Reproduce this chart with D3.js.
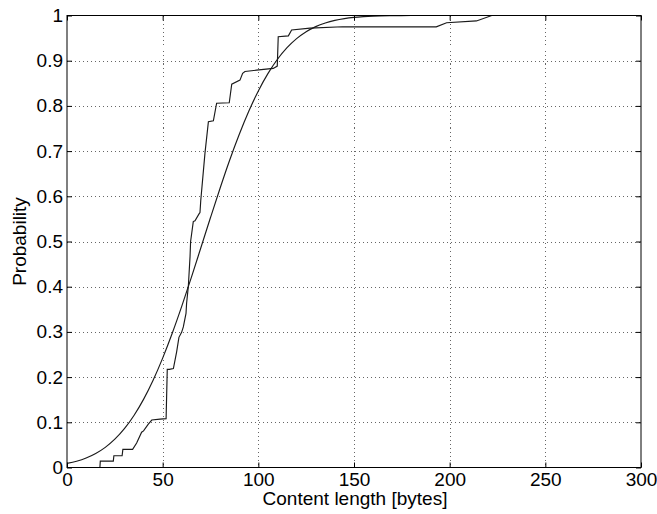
<!DOCTYPE html>
<html>
<head>
<meta charset="utf-8">
<script src="https://cdn.jsdelivr.net/npm/d3@7"></script>
<style>
  html, body { margin: 0; padding: 0; background: #fff; }
  svg { display: block; }
  text { font-family: "Liberation Sans", Arial, Helvetica, sans-serif; fill: #000; }
</style>
</head>
<body>
<svg id="chart" width="657" height="514"></svg>
<script>
// Empirical CDF of content length (bytes -> cumulative probability)
const empiricalX = [0, 17.2, 17.4, 24.2, 24.5, 28.8, 29.2, 34.3, 36.4, 39, 40, 42.5, 44.3, 48.6, 51.8, 52.4, 53.5, 55.6, 57.3, 58.5, 59.9, 60.8, 62.2, 62.5, 63.4, 64.3, 64.6, 66, 66.9, 69, 69.5, 69.9, 72.1, 73.9, 76.5, 78.2, 84.8, 86.1, 90.4, 91.8, 93, 99, 107.8, 109.9, 110.4, 115.7, 117.4, 127, 144, 193, 198.4, 214, 222, 300];
const empiricalP = [0, 0, 0.014, 0.014, 0.026, 0.026, 0.040, 0.040, 0.054, 0.078, 0.081, 0.096, 0.105, 0.107, 0.108, 0.217, 0.217, 0.219, 0.256, 0.288, 0.299, 0.311, 0.341, 0.363, 0.400, 0.466, 0.500, 0.544, 0.546, 0.561, 0.564, 0.590, 0.695, 0.765, 0.767, 0.806, 0.807, 0.848, 0.857, 0.872, 0.876, 0.879, 0.883, 0.888, 0.953, 0.955, 0.968, 0.972, 0.975, 0.975, 0.984, 0.988, 1.0, 1.0];

// Fitted (smooth) CDF
const fittedX = [0, 5, 10, 15, 20, 25, 30, 35, 40, 45, 50, 55, 60, 65, 70, 75, 80, 85, 90, 95, 100, 105, 110, 115, 120, 125, 130, 135, 140, 145, 150, 155, 160, 170, 180, 300];
const fittedP = [0.0090, 0.0139, 0.0210, 0.0310, 0.0446, 0.0626, 0.0859, 0.1151, 0.1507, 0.1931, 0.2420, 0.2969, 0.3569, 0.4207, 0.4867, 0.5530, 0.6179, 0.6798, 0.7367, 0.7881, 0.8332, 0.8714, 0.9032, 0.9288, 0.9488, 0.9641, 0.9754, 0.9835, 0.9893, 0.9932, 0.9958, 0.9974, 0.9985, 0.9995, 0.9999, 1.0];

const xTicks = [0, 50, 100, 150, 200, 250, 300];
const yTicks = [0, 0.1, 0.2, 0.3, 0.4, 0.5, 0.6, 0.7, 0.8, 0.9, 1];
const yTickLabels = ["0", "0.1", "0.2", "0.3", "0.4", "0.5", "0.6", "0.7", "0.8", "0.9", "1"];

const plotL = 67, plotR = 641, plotT = 15.5, plotB = 467.5;
const fontSize = 19;
const svg = d3.select("#chart");

const x = d3.scaleLinear().domain([0, 300]).range([plotL, plotR]);
const y = d3.scaleLinear().domain([0, 1]).range([plotB, plotT]);

// dotted grid
const grid = svg.append("g").attr("stroke", "#666").attr("stroke-width", 1)
  .attr("stroke-dasharray", "1,3").attr("shape-rendering", "crispEdges");
xTicks.slice(1, -1).forEach(t => {
  grid.append("line").attr("x1", Math.round(x(t)) + 0.5).attr("x2", Math.round(x(t)) + 0.5)
    .attr("y1", plotT).attr("y2", plotB);
});
yTicks.slice(1, -1).forEach(t => {
  grid.append("line").attr("y1", Math.round(y(t)) + 0.5).attr("y2", Math.round(y(t)) + 0.5)
    .attr("x1", plotL).attr("x2", plotR);
});

// curves
const fittedPts = fittedX.map((v, i) => [v, fittedP[i]]);
const empiricalPts = empiricalX.map((v, i) => [v, empiricalP[i]]);
svg.append("path")
  .attr("d", d3.line().x(d => x(d[0])).y(d => y(d[1])).curve(d3.curveMonotoneX)(fittedPts))
  .attr("fill", "none").attr("stroke", "#1a1a1a").attr("stroke-width", 1.15);
svg.append("path")
  .attr("d", d3.line().x(d => x(d[0])).y(d => y(d[1]))(empiricalPts))
  .attr("fill", "none").attr("stroke", "#1a1a1a").attr("stroke-width", 1.15);

// axes with inward ticks on all four sides
const tl = 5;
const fmtY = (d, i) => yTickLabels[i];
const ax = svg.append("g").attr("transform", `translate(0,${plotB})`)
  .call(d3.axisBottom(x).tickValues(xTicks).tickSizeInner(-tl).tickSizeOuter(0).tickPadding(5));
const ay = svg.append("g").attr("transform", `translate(${plotL},0)`)
  .call(d3.axisLeft(y).tickValues(yTicks).tickFormat(fmtY).tickSizeInner(-tl).tickSizeOuter(0).tickPadding(4));
const at = svg.append("g").attr("transform", `translate(0,${plotT})`)
  .call(d3.axisTop(x).tickValues(xTicks).tickSizeInner(-tl).tickSizeOuter(0).tickFormat(""));
const ar = svg.append("g").attr("transform", `translate(${plotR},0)`)
  .call(d3.axisRight(y).tickValues(yTicks).tickSizeInner(-tl).tickSizeOuter(0).tickFormat(""));
[ax, ay, at, ar].forEach(g => {
  g.select(".domain").remove();
  g.selectAll("line").attr("stroke", "#000");
  g.selectAll("text").attr("font-size", fontSize).attr("fill", "#000")
    .attr("font-family", "'Liberation Sans', Arial, sans-serif");
});

// plot box
svg.append("rect").attr("x", plotL).attr("y", plotT).attr("width", plotR - plotL).attr("height", plotB - plotT)
  .attr("fill", "none").attr("stroke", "#000").attr("stroke-width", 1);

// axis titles
svg.append("text").attr("x", (plotL + plotR) / 2 + 1).attr("y", 505)
  .attr("text-anchor", "middle").attr("font-size", fontSize).text("Content length [bytes]");
svg.append("text").attr("transform", `translate(26,${(plotT + plotB) / 2}) rotate(-90)`)
  .attr("text-anchor", "middle").attr("font-size", fontSize).text("Probability");
</script>
</body>
</html>
